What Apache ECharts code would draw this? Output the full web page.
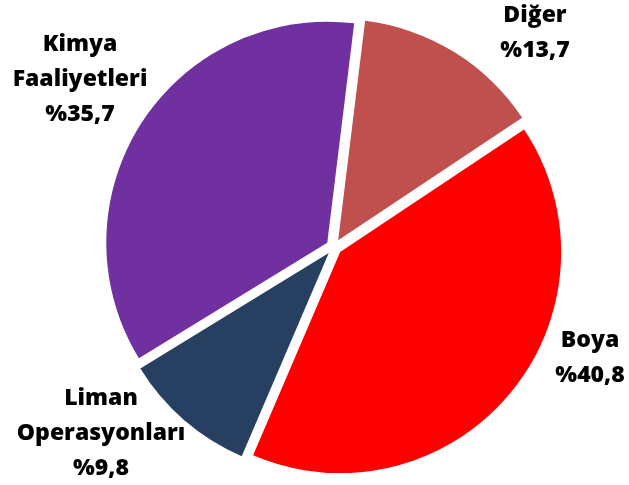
<!DOCTYPE html>
<html>
<head>
<meta charset="utf-8">
<script src="https://cdn.jsdelivr.net/npm/echarts@6/dist/echarts.min.js"></script>
<style>
  html, body { margin: 0; padding: 0; background: #fff; }
  #chart { width: 629px; height: 485px; }
</style>
</head>
<body>
<div id="chart"></div>
<script>
// dilim adları ve yüzdeleri (saat yönünde, üstten)
const names = ['Diğer', 'Boya', 'Liman\nOperasyonları', 'Kimya\nFaaliyetleri'];
const values = [13.7, 40.8, 9.8, 35.7];
const colors = ['#C0504D', '#FF0000', '#273F60', '#7030A0'];

// etiket merkezleri (piksel)
const labelPos = [[535, 33], [590, 358], [101, 433], [80, 79]];

const fmt = (n, v) => n + '\n%' + String(v).replace('.', ',');

const chart = echarts.init(document.getElementById('chart'));
chart.setOption({
  animation: false,
  graphic: names.map((n, i) => ({
    type: 'text',
    x: labelPos[i][0],
    y: labelPos[i][1],
    style: {
      text: fmt(n, values[i]),
      fill: '#000',
      font: '800 23px "Open Sans"',
      lineHeight: 35,
      align: 'center',
      verticalAlign: 'middle'
    }
  })),
  series: [
    {
      type: 'pie',
      center: [334, 247],
      radius: 221,
      startAngle: 83,
      clockwise: true,
      selectedMode: 'multiple',
      selectedOffset: 8,
      emphasis: { disabled: true },
      label: { show: false },
      labelLine: { show: false },
      data: names.map((n, i) => ({
        name: n,
        value: values[i],
        selected: true,
        itemStyle: { color: colors[i] }
      }))
    }
  ]
});
</script>
</body>
</html>
